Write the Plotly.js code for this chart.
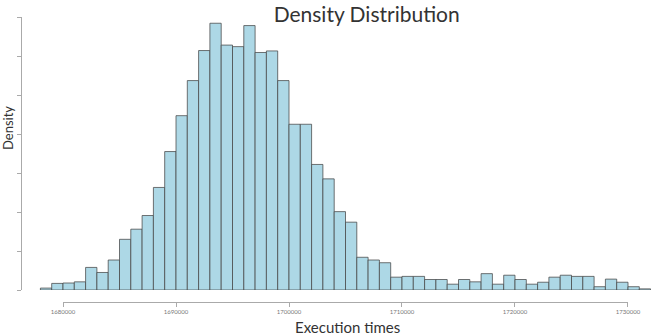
<!DOCTYPE html>
<html>
<head>
<meta charset="utf-8">
<script src="https://cdn.plot.ly/plotly-3.0.1.min.js"></script>
<style>html,body{margin:0;padding:0;background:#fff;}#chart{width:651px;height:336px;}</style>
</head>
<body>
<div id="chart"></div>
<script>
// Histogram bins: first bin edge and bin width (execution time units)
var binStart = 1678000;
var binWidth = 1000;
// Density per bin (in units of 1e-5)
var density = [0.05, 0.17, 0.18, 0.21, 0.58, 0.45, 0.77, 1.30, 1.56, 1.91,
               2.63, 3.55, 4.47, 5.37, 6.14, 6.84, 6.28, 6.24, 6.78, 6.09,
               6.13, 5.37, 4.25, 4.25, 3.22, 2.85, 2.01, 1.74, 0.84, 0.77,
               0.70, 0.33, 0.35, 0.35, 0.27, 0.27, 0.15, 0.27, 0.21, 0.42,
               0.15, 0.38, 0.27, 0.15, 0.20, 0.33, 0.38, 0.35, 0.35, 0.085,
               0.28, 0.20, 0.085, 0.03];
// X axis ticks and labels
var xTicks = [1680000, 1690000, 1700000, 1710000, 1720000, 1730000];
var xTickLabels = ["1680000", "1690000", "1700000", "1710000", "1720000", "1730000"];
// Y axis ticks (labels hidden)
var yTicks = [0, 1, 2, 3, 4, 5, 6, 7];

var centers = density.map(function (d, i) { return binStart + binWidth * (i + 0.5); });

var bars = {
  type: 'bar',
  x: centers,
  y: density,
  width: binWidth,
  marker: { color: '#ADD8E6', line: { color: 'rgba(70,70,70,0.75)', width: 1 } },
  xaxis: 'x', yaxis: 'y',
  hoverinfo: 'x+y',
  showlegend: false
};
var axisHolder = {
  type: 'scatter', mode: 'markers',
  x: xTicks, y: xTicks.map(function () { return null; }),
  xaxis: 'x2', yaxis: 'y',
  hoverinfo: 'skip', showlegend: false
};

var layout = {
  width: 651, height: 336,
  margin: { l: 22, r: 0, t: 17, b: 34 },
  paper_bgcolor: '#fff', plot_bgcolor: 'rgba(0,0,0,0)',
  font: { family: 'Lato, "Open Sans", sans-serif', color: '#333' },
  title: {
    text: 'Density Distribution',
    font: { family: 'Lato, "Open Sans", sans-serif', size: 21, color: '#333' },
    xref: 'paper', x: 0.548, xanchor: 'center',
    yref: 'container', y: 0.955, yanchor: 'middle'
  },
  bargap: 0,
  xaxis: {
    range: [1676372, 1732035],
    visible: false, fixedrange: true, anchor: 'y'
  },
  xaxis2: {
    domain: [0.0652, 0.9634],
    range: [xTicks[0], xTicks[xTicks.length - 1]],
    anchor: 'free', position: 0,
    tickmode: 'array', tickvals: xTicks, ticktext: xTickLabels,
    ticks: 'outside', ticklen: 4, tickcolor: '#aaa', tickwidth: 1,
    showline: true, linecolor: '#aaa', linewidth: 1,
    showgrid: false, zeroline: false,
    tickfont: { size: 6, color: '#777' }
  },
  yaxis: {
    domain: [0.042, 1],
    range: [yTicks[0], yTicks[yTicks.length - 1]],
    anchor: 'x',
    tickmode: 'array', tickvals: yTicks,
    showticklabels: false,
    ticks: 'outside', ticklen: 4, tickcolor: '#aaa', tickwidth: 1,
    showline: true, linecolor: '#aaa', linewidth: 1,
    showgrid: false, zeroline: false
  },
  annotations: [
    { text: 'Execution times', xref: 'paper', yref: 'paper', x: 0.517, y: -0.0877,
      xanchor: 'center', yanchor: 'middle', showarrow: false,
      font: { size: 15, color: '#333' } },
    { text: 'Density', xref: 'paper', yref: 'paper', x: -0.0223, y: 0.6105,
      xanchor: 'center', yanchor: 'middle', textangle: -90, showarrow: false,
      font: { size: 13, color: '#333' } }
  ]
};

Plotly.newPlot('chart', [bars, axisHolder], layout, { staticPlot: true, displayModeBar: false });
</script>
</body>
</html>
